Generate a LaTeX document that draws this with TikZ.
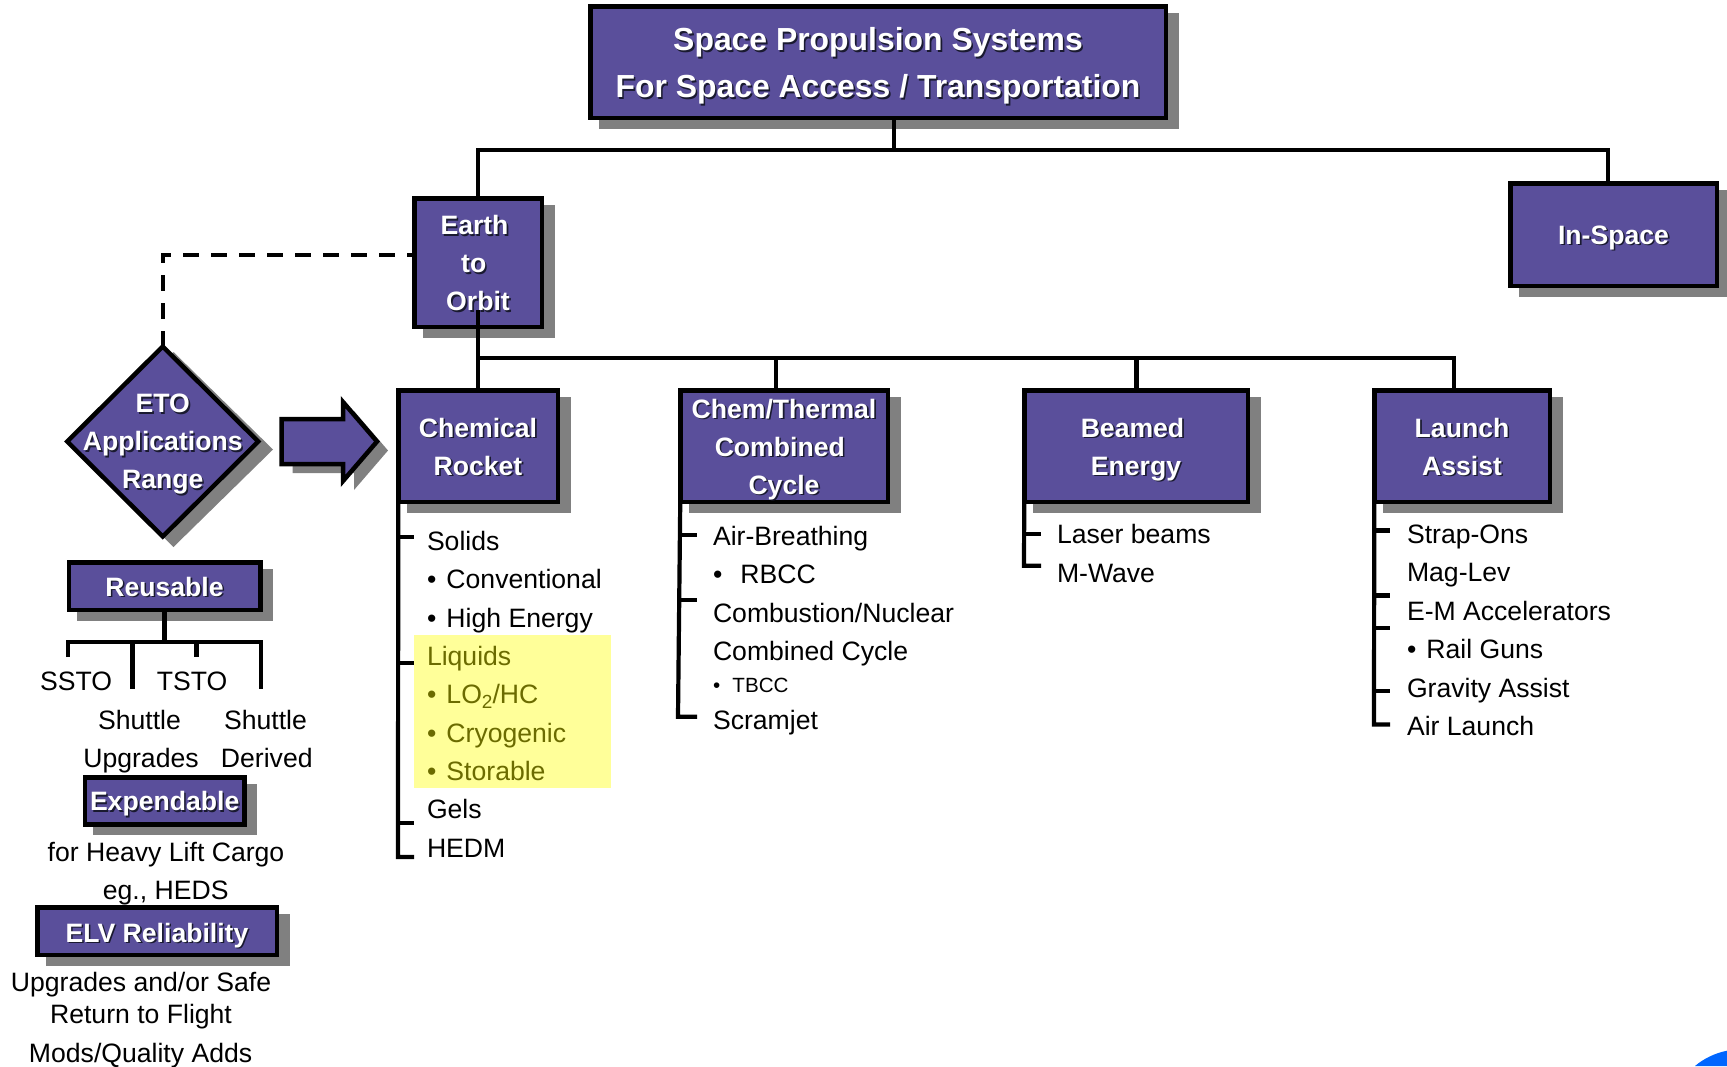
\documentclass[tikz,border=0pt]{standalone}
\usepackage{fontspec}
\setmainfont{Liberation Sans}
\usetikzlibrary{shapes.geometric,calc}
\definecolor{boxc}{HTML}{5A4F9B}
\definecolor{shadowc}{HTML}{808080}
\definecolor{txtsh}{HTML}{1A1A30}
\definecolor{olivec}{HTML}{6B6B00}
\definecolor{yellowc}{HTML}{FFFF99}
\definecolor{bluec}{HTML}{0066FF}
\newcommand\shd[1]{\leavevmode\rlap{\kern1.6pt\raisebox{-1.6pt}{\textcolor{txtsh}{#1}}}#1}
\newcommand\hdl[2][0]{\hspace*{#1pt}\smash{\shd{#2}}}
\tikzset{
  hrise/.store in=\hrisev, hrise=20,
  twolines/.style={hrise=58},
  threelines/.style={hrise=96},
  bxs/.style={draw=black,fill=boxc,line width=4.5pt,inner sep=0pt,outer sep=0pt,text=white,align=center,
    font=\fontsize{26.6}{38}\selectfont\bfseries,
    execute at begin node={\rule{0pt}{\hrisev pt}}},
  conn/.style={draw=black,line width=4.2pt},
  dashc/.style={draw=black,line width=4.2pt,dash pattern=on 16pt off 12pt},
  itemt/.style={anchor=base west,inner sep=0pt,outer sep=0pt,font=\fontsize{26.6}{30}\selectfont,yshift=-0.7pt},
  midt/.style={anchor=base,inner sep=0pt,outer sep=0pt,font=\fontsize{26.6}{30}\selectfont,yshift=-0.7pt},
}
\newcommand\bx[7][]{%
  \fill[shadowc] (#3+10.5,#4+8.5) rectangle (#5+10.5,#6+8.5);
  \node[bxs,#1,minimum width={(#5-#3-4.5)*1pt},minimum height={(#6-#4-4.5)*1pt}] (#2) at ({(#3+#5)/2},{(#4+#6)/2}) {#7};
}
\newcommand\bul[1]{\makebox[#1pt][l]{•}}
\begin{document}
\begin{tikzpicture}[x=1pt,y=-1pt]
\useasboundingbox (0,0) rectangle (1727,1066);
% corner arc
\fill[bluec] (1695,1066) .. controls (1703,1059) and (1715,1053) .. (1727,1050.7) -- (1727,1066) -- cycle;
% highlight
\fill[yellowc] (414,635) rectangle (611,787.7);
% boxes
\bx[font=\fontsize{31.9}{46.7}\selectfont\bfseries,hrise=71]{title}{588}{4}{1168}{120}{\hdl{Space Propulsion Systems}\\\hdl{For Space Access / Transportation}}
\bx[threelines]{earth}{412}{196}{544}{329}{\hdl[-7]{Earth}\\\hdl[-8.5]{to}\\\hdl{Orbit}}
\bx[hrise=19]{inspace}{1508}{181}{1719}{288}{\hdl{In-Space}}
\bx[twolines]{chem}{396}{388}{560}{504}{\hdl{Chemical}\\\hdl{Rocket}}
\bx[threelines]{chemth}{678}{388}{890}{504}{\hdl{Chem/Thermal}\\\hdl[-8.4]{Combined}\\\hdl{Cycle}}
\bx[twolines]{beamed}{1022}{388}{1250}{504}{\hdl[-7]{Beamed}\\\hdl{Energy}}
\bx[twolines]{launch}{1372}{388}{1552}{504}{\hdl{Launch}\\\hdl{Assist}}
\bx{reus}{66.5}{560}{262.5}{612}{\hdl{Reusable}}
\bx{expend}{82.6}{775}{246.7}{826.7}{\hdl{Expendable}}
\bx[hrise=22]{elv}{35}{905}{279}{957}{\hdl{ELV Reliability}}
% diamond
\fill[shadowc] (173.5,352) -- (273,449.5) -- (173.5,547) -- (74,449.5) -- cycle;
\node[bxs,diamond,aspect=1,hrise=0,minimum width=191pt,minimum height=190pt] (dia) at (162.75,441.5) {};
\node[bxs,draw=none,fill=none,hrise=94] (diatext) at (dia.center) {\hdl{ETO}\\\hdl{Applications}\\\hdl{Range}};
% block arrow
\fill[shadowc] (292.5,428) -- (354,428) -- (354,411) -- (388,450.5) -- (354,490) -- (354,473) -- (292.5,473) -- cycle;
\draw[draw=black,fill=boxc,line width=4.5pt,miter limit=10] (281.5,419) -- (343,419) -- (343,402) -- (377,441.5) -- (343,481) -- (343,464) -- (281.5,464) -- cycle;
% top bus
\coordinate (tbus) at (894,150);
\draw[conn] (title.south -| tbus) -- (tbus);
\coordinate (tbusr) at (1608,150);
\draw[conn] (earth.north) -- (earth.north |- tbus) -- (tbusr) -- (inspace.north -| tbusr);
% second bus
\coordinate (sbus) at (478,358);
\draw[conn] ([yshift=17pt]earth.south) -- (chem.north);
\coordinate (cth) at (775.6,358);
\coordinate (bea) at (1136.5,358);
\coordinate (lau) at (1454,358);
\draw[conn] (sbus) -- (lau) -- (launch.north -| lau);
\draw[conn] (cth) -- (chemth.north -| cth);
\draw[conn] (bea) -- (beamed.north -| bea);
% dashed link
\coordinate (dcorner) at (162.75,255);
\draw[dashc] (dia.north) -- (dcorner) -- (earth.west |- dcorner);
% reusable tree
\coordinate (rbus) at (164.5,642);
\draw[conn] (reus.south) -- (rbus);
\coordinate (rl) at (68,642);
\coordinate (rr) at (260.6,642);
\coordinate (rm1) at (132.5,642);
\coordinate (rm2) at (196.5,642);
\coordinate (rlb) at (68,657);
\coordinate (rrb) at (260.6,689);
\coordinate (rm1b) at (132.5,689);
\coordinate (rm2b) at (196.5,657);
\draw[conn] (rlb) -- (rl) -- (rr) -- (rrb);
\draw[conn] (rm1) -- (rm1b);
\draw[conn] (rm2) -- (rm2b);
% chemical list
\coordinate (c1e) at (398,857);
\draw[conn] (chem.south west) -- (c1e) -- ++(16,0);
\foreach \y in {536.7,662.7,823} \draw[conn] (chem.south west |- 0,\y) -- ++(16,0);
% chem/thermal list
\coordinate (c2e) at (678,716.7);
\draw[conn] (chemth.south west) -- (c2e) -- ++(19,0);
\foreach \y in {535,600} \draw[conn] (679.5,\y) -- ++(17,0);
% beamed list
\coordinate (c3e) at (1024,565.7);
\draw[conn] (beamed.south west) -- (c3e) -- ++(17,0);
\draw[conn] (beamed.south west |- 0,533.7) -- ++(17,0);
% launch list
\coordinate (c4e) at (1374,724.5);
\draw[conn] (launch.south west) -- (c4e) -- ++(16,0);
\foreach \y in {530.5,595.5,628,691} \draw[conn] (launch.south west |- 0,\y) -- ++(16,0);
% chemical texts
\node[itemt] (t1) at (427,549.5) {Solids};
\node[itemt] (t2) at (427,587.5) {\bul{19.5}Conventional};
\node[itemt] (t3) at (427,626.7) {\bul{19.5}High Energy};
\node[itemt,text=olivec] (t4) at (427,664.5) {Liquids};
\node[itemt,text=olivec] (t5) at (427,702.7) {\bul{19.5}LO\raisebox{-5pt}{\fontsize{19}{19}\selectfont 2}/HC};
\node[itemt,text=olivec] (t6) at (427,741.7) {\bul{19.5}Cryogenic};
\node[itemt,text=olivec] (t7) at (427,779.5) {\bul{19.5}Storable};
\node[itemt] (t8) at (427,818) {Gels};
\node[itemt] (t9) at (427,856.7) {HEDM};
% chem/thermal texts
\node[itemt] (u1) at (713,545) {Air-Breathing};
\node[itemt] (u2) at (713,582.7) {\bul{27.5}RBCC};
\node[itemt] (u3) at (713,621.7) {Combustion/Nuclear};
\node[itemt] (u4) at (713,659.7) {Combined Cycle};
\node[itemt,font=\fontsize{20.6}{24}\selectfont] (u5) at (713,691.7) {\bul{19.5}TBCC};
\node[itemt] (u6) at (713,729) {Scramjet};
% beamed texts
\node[itemt] (v1) at (1057,542.7) {Laser beams};
\node[itemt] (v2) at (1057,581.7) {M-Wave};
% launch texts
\node[itemt] (w1) at (1407,542.7) {Strap-Ons};
\node[itemt] (w2) at (1407,580.5) {Mag-Lev};
\node[itemt] (w3) at (1407,619.5) {E-M Accelerators};
\node[itemt] (w4) at (1407,657.5) {\bul{19.5}Rail Guns};
\node[itemt] (w5) at (1407,696.7) {Gravity Assist};
\node[itemt] (w6) at (1407,734.5) {Air Launch};
% left column texts
\node[midt] (r1) at (76,689.7) {SSTO};
\node[midt] (r2) at (192,689.7) {TSTO};
\node[midt] (r3) at (139.5,728.7) {Shuttle};
\node[midt] (r4) at (265.5,728.7) {Shuttle};
\node[midt] (r5) at (141,766.7) {Upgrades};
\node[midt] (r6) at (266.8,766.7) {Derived};
\node[midt] (e1) at (166,860.7) {for Heavy Lift Cargo};
\node[midt] (e2) at (165.7,898.7) {eg., HEDS};
\node[midt] (l1) at (141,990.7) {Upgrades and/or Safe};
\node[midt] (l2) at (141,1023) {Return to Flight};
\node[midt] (l3) at (140.6,1061.7) {Mods/Quality Adds};
\end{tikzpicture}
\end{document}
